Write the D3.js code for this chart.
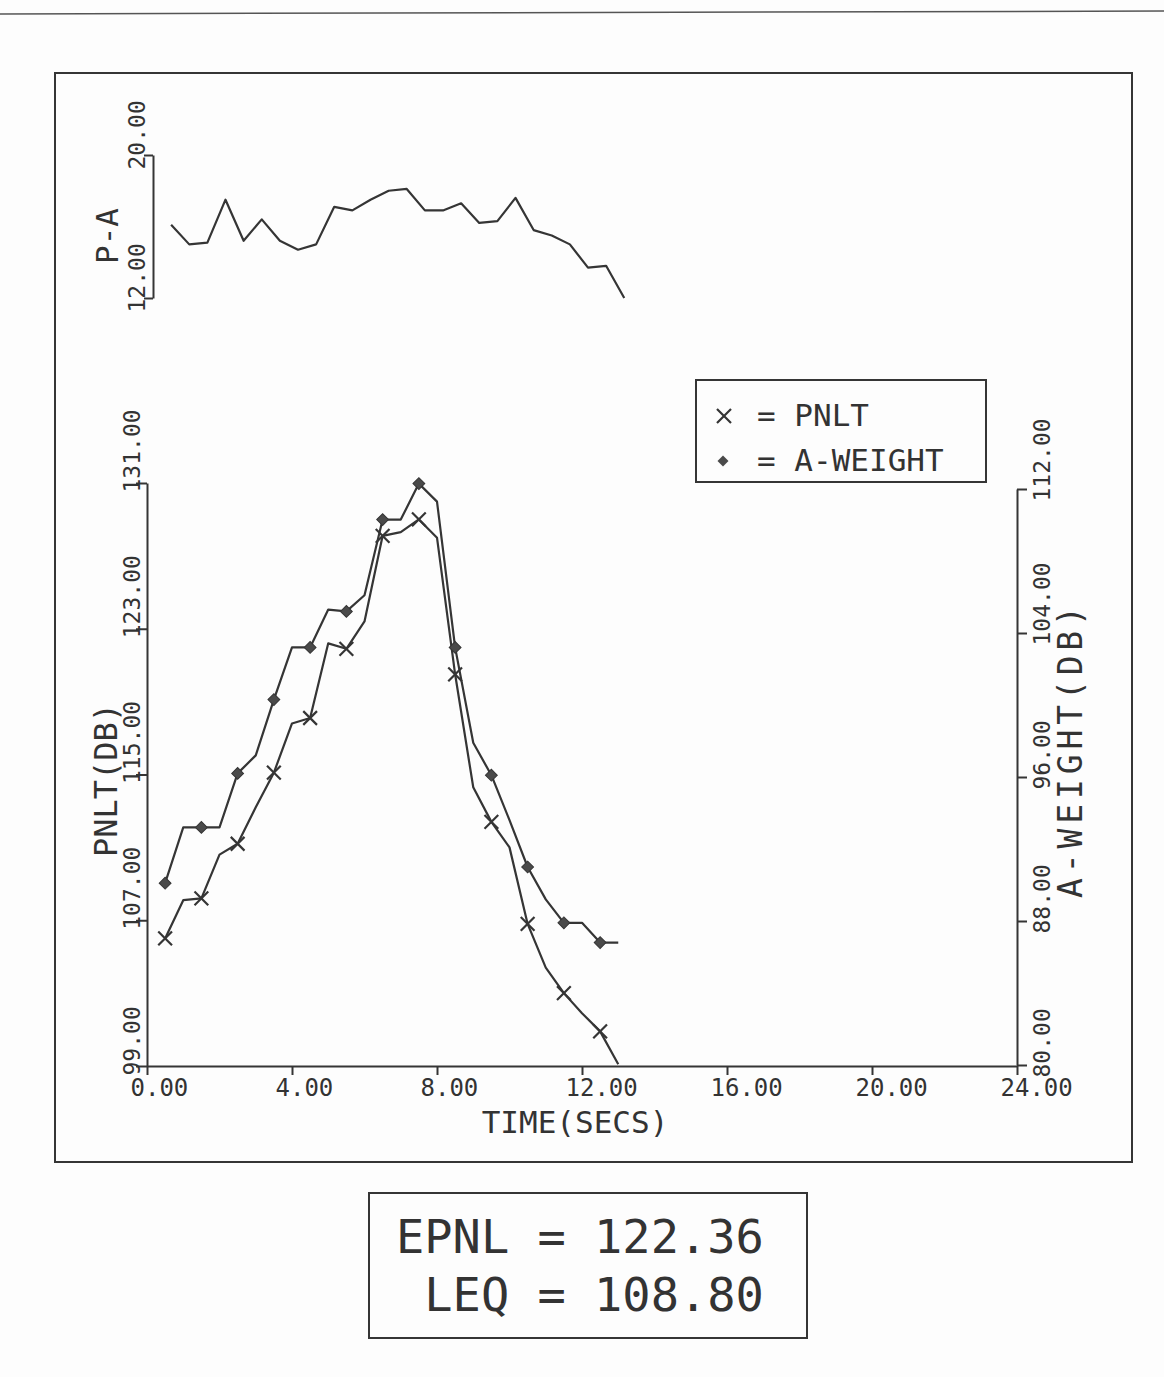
<!DOCTYPE html>
<html>
<head>
<meta charset="utf-8">
<script src="https://cdn.jsdelivr.net/npm/d3@7"></script>
<style>
  body { margin: 0; background: #fdfdfd; }
  svg text { font-family: "DejaVu Sans Mono", "Liberation Mono", monospace; fill: #333; }
</style>
</head>
<body>
<div id="chart"></div>
<script>
// data (0.5 s steps)
const timeSecs = [0.5, 1.0, 1.5, 2.0, 2.5, 3.0, 3.5, 4.0, 4.5, 5.0, 5.5, 6.0, 6.5,
                  7.0, 7.5, 8.0, 8.5, 9.0, 9.5, 10.0, 10.5, 11.0, 11.5, 12.0, 12.5, 13.0];
const pnlt = [106.0, 108.1, 108.2, 110.6, 111.2, 113.2, 115.1, 117.8, 118.1, 122.2, 121.9, 123.4, 128.1,
              128.3, 129.0, 128.0, 120.5, 114.3, 112.4, 111.0, 106.8, 104.4, 103.0, 101.9, 100.9, 99.1];
const aWeight = [90.1, 93.2, 93.2, 93.2, 96.2, 97.2, 100.3, 103.2, 103.2, 105.3, 105.2, 106.1, 110.3,
                 110.3, 112.3, 111.3, 103.2, 97.9, 96.1, 93.6, 91.0, 89.2, 87.9, 87.9, 86.8, 86.8];
const pMinusA = [16.1, 15.0, 15.1, 17.5, 15.2, 16.4, 15.2, 14.7, 15.0, 17.1, 16.9, 17.5, 18.0,
                 18.1, 16.9, 16.9, 17.3, 16.2, 16.3, 17.6, 15.8, 15.5, 15.0, 13.7, 13.8, 12.0];

const timeTicks = [0, 4, 8, 12, 16, 20, 24];
const pnltTicks = [99, 107, 115, 123, 131];
const aTicks = [80, 88, 96, 104, 112];
const paTicks = [12, 20];

const legendItems = ["PNLT", "A-WEIGHT"];
const summaryLines = ["EPNL = 122.36", " LEQ = 108.80"];

const W = 1164, H = 1377;
const ink = "#353535";
const fmt = d3.format(".2f");

const svg = d3.select("#chart").append("svg")
    .attr("width", W).attr("height", H);

svg.append("rect").attr("width", W).attr("height", H).attr("fill", "#fdfdfd");

// paper edge at top
svg.append("line")
    .attr("x1", 0).attr("y1", 14).attr("x2", W).attr("y2", 11)
    .attr("stroke", "#555").attr("stroke-width", 1.5);

// outer frame
svg.append("rect")
    .attr("x", 55).attr("y", 73).attr("width", 1077).attr("height", 1089)
    .attr("fill", "none").attr("stroke", ink).attr("stroke-width", 2);

// scales
const x = d3.scaleLinear().domain([0, 24]).range([147, 1017]);
const xTop = d3.scaleLinear().domain([0, 24]).range([153, 1023]);
const yP = d3.scaleLinear().domain([99, 131]).range([1066, 483]);
const yA = d3.scaleLinear().domain([80, 112]).range([1065, 489]);
const yPA = d3.scaleLinear().domain([12, 20]).range([298, 155]);

function styleAxis(g) {
    g.selectAll("path, line").attr("stroke", ink).attr("stroke-width", 2);
    g.selectAll("text").attr("font-size", 23).attr("fill", "#333");
}

// X axis
const gx = svg.append("g")
    .attr("transform", "translate(0,1066)")
    .call(d3.axisBottom(x).tickValues(timeTicks).tickFormat(fmt).tickSize(9).tickSizeOuter(0));
styleAxis(gx);
gx.selectAll("text").attr("font-size", 24)
    .attr("text-anchor", "start").attr("x", -17).attr("y", 30).attr("dy", 0);

// left axis (PNLT)
const gl = svg.append("g")
    .attr("transform", "translate(147,0)")
    .call(d3.axisLeft(yP).tickValues(pnltTicks).tickFormat(fmt).tickSize(11).tickSizeOuter(0));
styleAxis(gl);
gl.selectAll("text").attr("text-anchor", "start").attr("x", 0).attr("dy", 0)
    .attr("transform", "translate(-7,9) rotate(-90)");

// right axis (A-weight)
const gr = svg.append("g")
    .attr("transform", "translate(1017,0)")
    .call(d3.axisRight(yA).tickValues(aTicks).tickFormat(fmt).tickSize(10).tickSizeOuter(0));
styleAxis(gr);
gr.selectAll("text").attr("text-anchor", "start").attr("x", 0).attr("dy", 0)
    .attr("transform", "translate(33,12) rotate(-90)");

// P-A axis
const gpa = svg.append("g")
    .attr("transform", "translate(153,0)")
    .call(d3.axisLeft(yPA).tickValues(paTicks).tickFormat(fmt).tickSize(9).tickSizeOuter(0));
styleAxis(gpa);
gpa.selectAll("text").attr("text-anchor", "start").attr("x", 0).attr("dy", 0)
    .attr("transform", "translate(-8,14) rotate(-90)");

// axis titles
svg.append("text").attr("x", 575).attr("y", 1133).attr("text-anchor", "middle")
    .attr("font-size", 31).text("TIME(SECS)");
svg.append("text").attr("transform", "translate(117,780) rotate(-90)").attr("text-anchor", "middle")
    .attr("font-size", 32).text("PNLT(DB)");
svg.append("text").attr("transform", "translate(1082,752) rotate(-90)").attr("text-anchor", "middle")
    .attr("font-size", 33).attr("textLength", 292).attr("lengthAdjust", "spacing")
    .text("A-WEIGHT(DB)");
svg.append("text").attr("transform", "translate(118,236) rotate(-90)").attr("text-anchor", "middle")
    .attr("font-size", 31).text("P-A");

// lines
const rows = timeSecs.map((t, i) => ({t, p: pnlt[i], a: aWeight[i], pa: pMinusA[i], mark: i % 2 === 0}));

const lineStyle = sel => sel.attr("fill", "none").attr("stroke", ink)
    .attr("stroke-width", 2.2).attr("stroke-linejoin", "round");

svg.append("path").datum(rows)
    .attr("d", d3.line().x(d => xTop(d.t)).y(d => yPA(d.pa)))
    .call(lineStyle);

svg.append("path").datum(rows)
    .attr("d", d3.line().x(d => x(d.t)).y(d => yA(d.a)))
    .call(lineStyle);

svg.append("path").datum(rows)
    .attr("d", d3.line().x(d => x(d.t)).y(d => yP(d.p)))
    .call(lineStyle);

// markers every second point
const crossPath = d3.symbol().type(d3.symbolTimes).size(125)();
const diamondPath = d3.symbol().type(d3.symbolSquare).size(70)();

svg.append("g").selectAll("path")
    .data(rows.filter(d => d.mark)).enter()
    .append("path")
    .attr("d", crossPath)
    .attr("transform", d => `translate(${x(d.t)},${yP(d.p)})`)
    .attr("fill", "none").attr("stroke", ink).attr("stroke-width", 2.2);

svg.append("g").selectAll("path")
    .data(rows.filter(d => d.mark)).enter()
    .append("path")
    .attr("d", diamondPath)
    .attr("transform", d => `translate(${x(d.t)},${yA(d.a)}) rotate(45)`)
    .attr("fill", "#4a4a4a").attr("stroke", ink).attr("stroke-width", 1);

// legend
const leg = svg.append("g");
leg.append("rect").attr("x", 696).attr("y", 380).attr("width", 290).attr("height", 102)
    .attr("fill", "none").attr("stroke", ink).attr("stroke-width", 2);
leg.append("path").attr("d", d3.symbol().type(d3.symbolTimes).size(130)())
    .attr("transform", "translate(724,416)")
    .attr("fill", "none").attr("stroke", ink).attr("stroke-width", 2.2);
leg.append("path").attr("d", d3.symbol().type(d3.symbolSquare).size(60)())
    .attr("transform", "translate(723,461) rotate(45)")
    .attr("fill", "#4a4a4a");
leg.selectAll("text.item")
    .data(legendItems).enter()
    .append("text").attr("class", "item")
    .attr("x", 757).attr("y", (d, i) => 426 + i * 45)
    .attr("font-size", 31)
    .text(d => "= " + d);

// summary box
svg.append("rect").attr("x", 369).attr("y", 1193).attr("width", 438).attr("height", 145)
    .attr("fill", "none").attr("stroke", ink).attr("stroke-width", 2);
svg.selectAll("text.sum")
    .data(summaryLines).enter()
    .append("text").attr("class", "sum")
    .attr("x", 396).attr("y", (d, i) => 1253 + i * 58)
    .attr("font-size", 47)
    .style("white-space", "pre")
    .text(d => d);
</script>
</body>
</html>
